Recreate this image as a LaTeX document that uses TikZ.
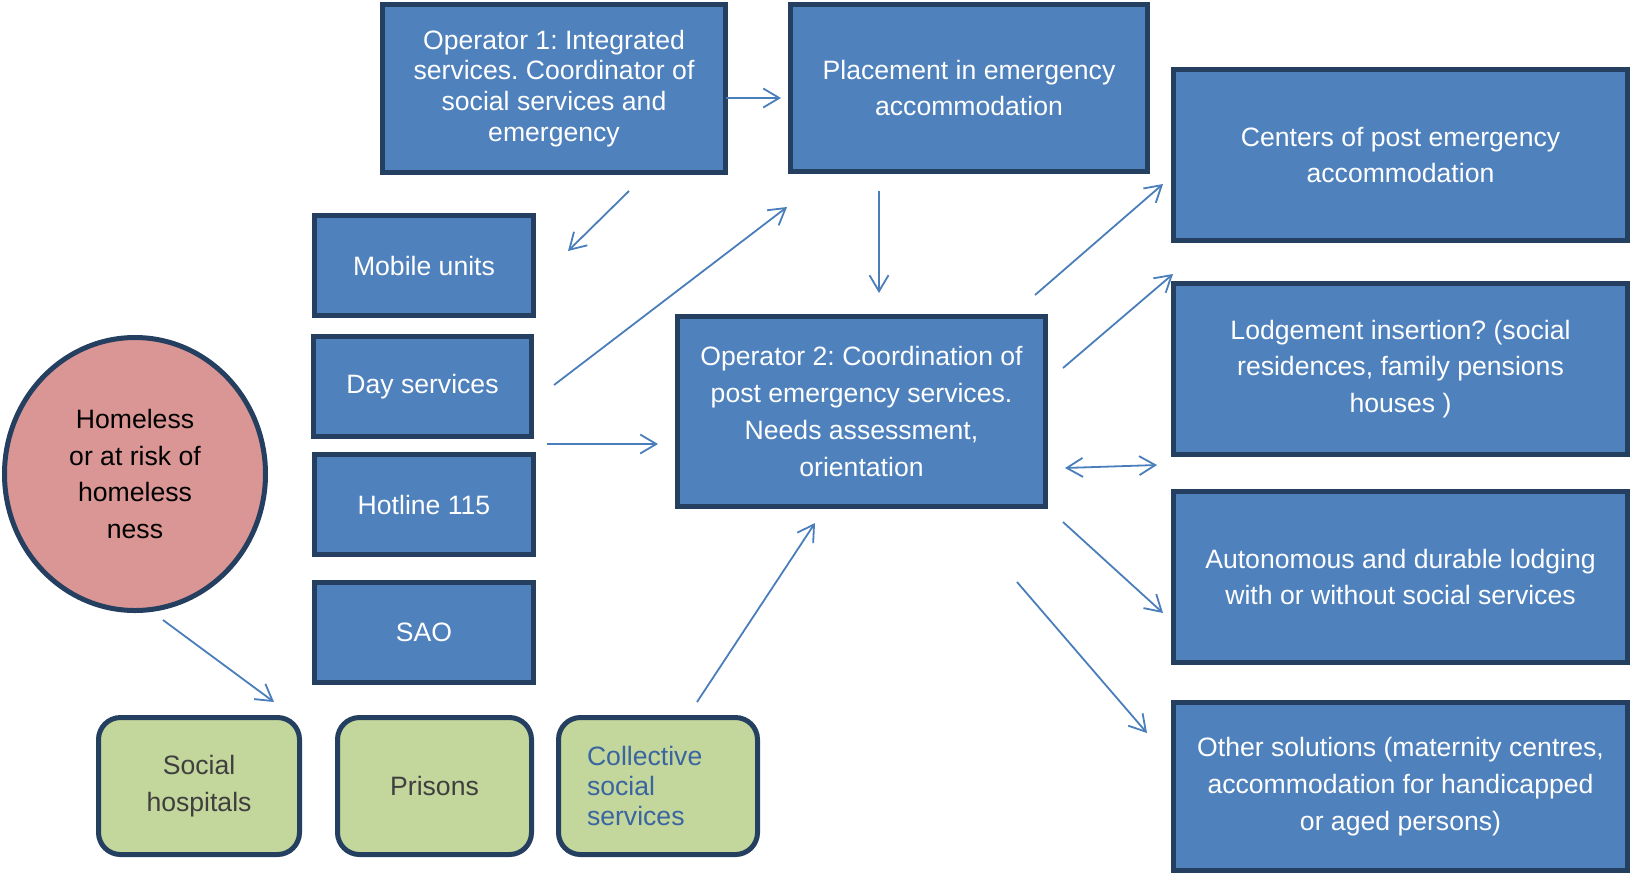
\documentclass[tikz,border=0pt]{standalone}
\usepackage{fontspec}
\setmainfont{Liberation Sans}
\frenchspacing
\usetikzlibrary{arrows.meta, shapes.geometric}
\definecolor{boxblue}{HTML}{4F81BD}
\definecolor{boxnavy}{HTML}{243F60}
\definecolor{arrblue}{HTML}{4A7EBB}
\definecolor{homepink}{HTML}{D99694}
\definecolor{instgreen}{HTML}{C3D69B}
\definecolor{instgray}{HTML}{3F3F3F}
\definecolor{colltext}{HTML}{3A65A0}

\begin{document}
\begin{tikzpicture}[
    x=0.5pt, y=-0.5pt,
    box/.style={rectangle, draw=boxnavy, fill=boxblue, line width=2.5pt,
                inner sep=0pt, text=white, align=center,
                font=\fontsize{13.3}{18.4}\selectfont},
    side/.style={box, minimum width=109.5pt, minimum height=50pt},
    outcome/.style={box, minimum width=227pt, minimum height=85.5pt},
    inst/.style={rectangle, rounded corners=11pt, draw=boxnavy, fill=instgreen,
                 line width=2.5pt, inner sep=0pt, text=instgray, align=center,
                 minimum height=68.5pt, font=\fontsize{13.3}{18.4}\selectfont},
    home/.style={ellipse, draw=boxnavy, fill=homepink, line width=2.5pt,
                 inner sep=0pt, align=center, minimum width=130.5pt,
                 minimum height=136.5pt, font=\fontsize{13.3}{18.4}\selectfont},
    arr/.style={-{Straight Barb[length=8pt, width=9.5pt]}, line width=0.9pt, color=arrblue},
    darr/.style={{Straight Barb[length=8pt, width=9.5pt]}-{Straight Barb[length=8pt, width=9.5pt]},
                 line width=0.9pt, color=arrblue}
  ]
    \useasboundingbox (0,0) rectangle (1631,874);

    % top row
    \node[box, minimum width=171.5pt, minimum height=84pt,
          font=\fontsize{13.3}{15.4}\selectfont] (op1) at (554,88.5)
        {Operator 1: Integrated\\services. Coordinator of\\social services and\\emergency};
    \node[box, minimum width=178.5pt, minimum height=83.5pt] (place) at (969,88)
        {Placement in emergency\\accommodation};

    % entry services
    \node[side] (mob) at (424,265.5) {Mobile units};
    \node[side, minimum width=109pt] (day) at (422.5,386.5) {Day services};
    \node[side] (hot) at (424,504.5) {Hotline 115};
    \node[side] (sao) at (424,632.5) {SAO};

    \node[home] (home) at (135,474) {Homeless\\or at risk of\\homeless\\ness};

    \node[box, minimum width=184pt, minimum height=95pt] (op2) at (861.5,411.5)
        {Operator 2: Coordination of\\post emergency services.\\Needs assessment,\\orientation};

    % institutions
    \node[inst, minimum width=100.5pt] (hosp) at (199,786) {Social\\hospitals};
    \node[inst, minimum width=97pt] (pris) at (434.5,786) {Prisons};
    \node[inst, minimum width=99.5pt, text=colltext, align=left, text width=71pt,
          font=\fontsize{13.3}{15}\selectfont] (coll) at (658,786)
        {Collective\\social\\services};

    % outcomes
    \node[outcome] (cent) at (1400.5,155) {Centers of post emergency\\accommodation};
    \node[outcome] (lodg) at (1400.5,369)
        {Lodgement insertion? (social\\residences, family pensions\\houses )};
    \node[outcome] (auto) at (1400.5,577)
        {Autonomous and durable lodging\\with or without social services};
    \node[outcome, minimum height=84pt] (other) at (1400.5,786.5)
        {Other solutions (maternity centres,\\accommodation for handicapped\\or aged persons)};

    \draw[arr] ([shift={(-2,9.5)}]op1.east) -- ([shift={(-7,10)}]place.west);
    \draw[arr] ([shift={(75,16)}]op1.south) -- ([shift={(32,38)}]mob.north east);
    \draw[arr] ([shift={(20,-1.5)}]day.east) -- ([shift={(-1,33)}]place.south west);
    \draw[arr] ([shift={(13,5)}]day.south east) -- ([shift={(-17,32.5)}]op2.west);
    \draw[arr] ([shift={(-90,17)}]place.south) -- ([shift={(17.5,-21)}]op2.north);
    \draw[arr] ([shift={(-13,-19)}]op2.north east) -- ([shift={(-8,29)}]cent.west);
    \draw[arr] ([shift={(15,-43.5)}]op2.east) -- ([shift={(2,-7)}]lodg.north west);
    \draw[darr] ([shift={(17,56.5)}]op2.east) -- ([shift={(-14,8)}]lodg.south west);
    \draw[arr] ([shift={(15,13)}]op2.south east) -- ([shift={(-8,36)}]auto.west);
    \draw[arr] ([shift={(-31,73)}]op2.south east) -- ([shift={(-24,-53.5)}]other.west);
    \draw[arr] ([shift={(28,7)}]home.south) -- ([shift={(75,-13)}]hosp.north);
    \draw[arr] ([shift={(39,-13)}]coll.north) -- ([shift={(-46.5,14)}]op2.south);
  \end{tikzpicture}
\end{document}
